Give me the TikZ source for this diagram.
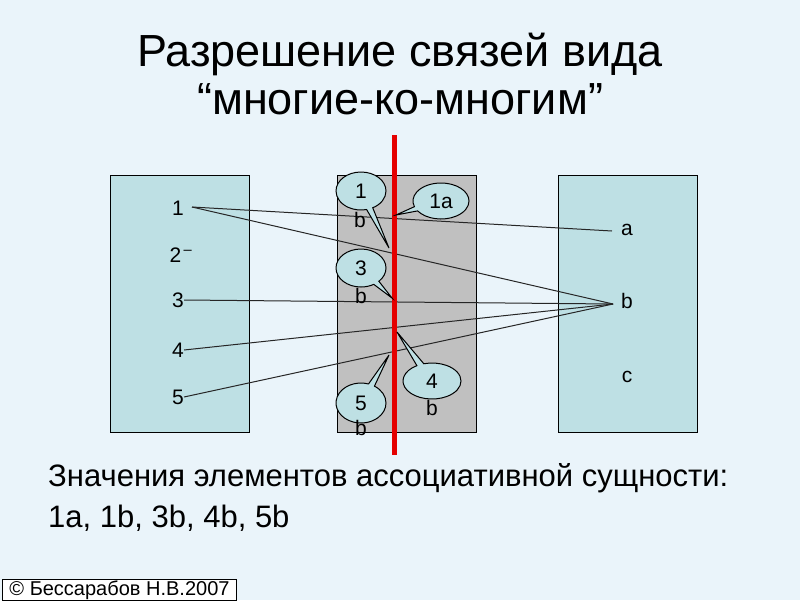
\documentclass[tikz,border=0pt]{standalone}
\usepackage{fontspec}
\setmainfont{Liberation Sans}
\usetikzlibrary{shapes.callouts}
\definecolor{bgc}{HTML}{EAF4FA}
\definecolor{boxc}{HTML}{BEE0E4}
\definecolor{grayc}{HTML}{C0C0C0}
\begin{document}
\begin{tikzpicture}[x=1pt,y=-1pt,
  ent/.style={draw=black,fill=boxc,line width=1pt},
  lbl/.style={font=\fontsize{21}{24}\selectfont,inner sep=0pt},
  conn/.style={draw=black!85,line width=1pt},
  bub/.style={ellipse callout,draw=black,fill=boxc,line width=1pt,minimum width=50pt,minimum height=38pt,inner sep=0pt,font=\fontsize{21}{24}\selectfont}]
\fill[bgc] (0,0) rectangle (800,600);
\useasboundingbox (0,0) rectangle (800,600);
\node[font=\fontsize{45}{48}\selectfont,align=center] (title) at (400,74) {Разрешение связей вида\\“многие-ко-многим”};
\draw[ent] (110,175) rectangle (249,432);
\draw[draw=black,fill=grayc,line width=1pt] (337,175) rectangle (476,432);
\draw[ent] (558,175) rectangle (697,432);
\node[lbl] (l1) at (178,208) {1};
\node[lbl] (l2) at (181,255) {2\textsuperscript{\,–}};
\node[lbl] (l3) at (178,300) {3};
\node[lbl] (l4) at (178,350) {4};
\node[lbl] (l5) at (178,397) {5};
\node[lbl] (ra) at (627,230) {a};
\node[lbl] (rb) at (627,301) {b};
\node[lbl] (rc) at (627,377) {c};
\coordinate (p1) at (192,207);
\coordinate (pa) at (612,231);
\coordinate (pb) at (613,304);
\draw[conn] (p1) -- (pa);
\draw[conn] (p1) -- (pb);
\draw[conn] (l3.east) -- (pb);
\draw[conn] (l4.east) -- (pb);
\draw[conn] (l5.east) -- (pb);
\draw[red!90!black,line width=5pt] (394,135) -- (394,455);
\node[bub,callout absolute pointer={(389,248)}] (c1) at (361,191) {1};
\node[lbl] (c1b) at (360,220) {b};
\node[bub,minimum width=56pt,minimum height=36pt,callout absolute pointer={(396,215)}] (c1a) at (441,201) {1a};
\node[bub,callout absolute pointer={(392,298)}] (c3) at (361,268) {3};
\node[lbl] (c3b) at (361,296) {b};
\node[bub,minimum width=58pt,minimum height=36pt,callout absolute pointer={(397,332)}] (c4) at (432,381) {4};
\node[lbl] (c4b) at (432,408) {b};
\node[bub,minimum height=40pt,callout absolute pointer={(389,355)}] (c5) at (361,403) {5};
\node[lbl] (c5b) at (361,428) {b};
\node[font=\fontsize{31}{41}\selectfont,align=justify,anchor=north west,text width=688pt,inner sep=0pt] (note) at (48,463) {Значения элементов ассоциативной сущности:\\1a, 1b, 3b, 4b, 5b};
\node[draw=black,fill=white,line width=1pt,font=\fontsize{20}{20}\selectfont,inner sep=1pt,anchor=south west,minimum width=234pt,minimum height=18pt] (copy) at (2,601) {© Бессарабов Н.В.2007};
\end{tikzpicture}
\end{document}
